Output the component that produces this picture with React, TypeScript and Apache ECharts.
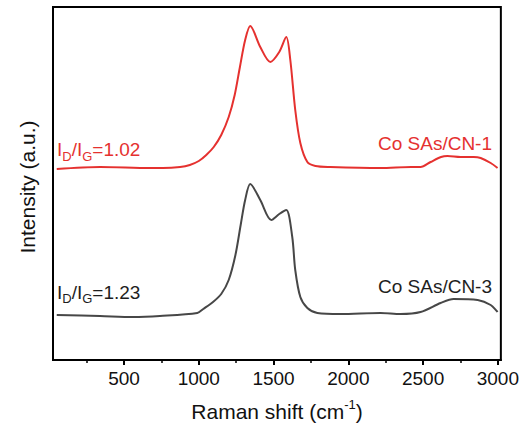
import React, { useEffect, useRef } from "react";
import * as echarts from "echarts";

// Raman shift (cm-1) and intensity (a.u.)
const cn1Shift = [50, 340, 675, 760, 875, 940, 1000, 1050, 1100, 1150, 1200, 1240, 1275, 1310, 1344, 1411, 1478, 1538, 1585, 1612, 1645, 1679, 1726, 1780, 1880, 2215, 2420, 2483, 2550, 2620, 2663, 2750, 2838, 2885, 2952, 2998];
const cn1Intensity = [191, 193, 192, 192, 193, 195, 199, 205, 213, 225, 243, 265, 293, 320, 334, 313, 298, 308, 323, 300, 250, 217, 198, 194, 193, 192, 193, 193, 198, 203, 204, 203, 203, 202, 197, 192];

const cn3Shift = [50, 339, 560, 740, 990, 1030, 1095, 1150, 1200, 1245, 1280, 1310, 1344, 1411, 1485, 1538, 1585, 1625, 1645, 1679, 1726, 1793, 1947, 2215, 2349, 2483, 2617, 2704, 2865, 2952, 2998];
const cn3Intensity = [45, 44, 43, 44, 47, 51, 58, 66, 80, 105, 135, 160, 176, 160, 140, 146, 150, 123, 90, 63, 52, 47, 46, 47, 46, 48, 57, 61, 60, 55, 48];

const xMajorTicks = [500, 1000, 1500, 2000, 2500, 3000];
const xMinorTicks = [250, 750, 1250, 1750, 2250, 2750];

const labelCN1 = "Co SAs/CN-1";
const labelCN3 = "Co SAs/CN-3";
const ratioCN1 = "1.02";
const ratioCN3 = "1.23";

const FONT = "'Liberation Sans', Arial, Helvetica, sans-serif";
const RED = "#e5312f";
const GRAY = "#474747";
const TEXT_DARK = "#1e1e1e";

const ratioRich = (color: string) => ({
  m: { fontSize: 19, lineHeight: 20, height: 20, verticalAlign: "top", fill: color, fontFamily: FONT },
  s: { fontSize: 13, lineHeight: 7, height: 7, verticalAlign: "bottom", fill: color, fontFamily: FONT },
});

export default function App() {
  const ref = useRef<HTMLDivElement>(null);
  useEffect(() => {
    if (!ref.current) return;
    const chart = echarts.init(ref.current, null, { renderer: "svg" });
    const zip = (xs: number[], ys: number[]) => xs.map((x, i) => [x, ys[i]]);
    chart.setOption({
      animation: false,
      backgroundColor: "#ffffff",
      textStyle: { fontFamily: FONT },
      grid: {
        left: 53,
        right: 21,
        top: 7,
        bottom: 74,
        show: true,
        borderColor: "#000",
        borderWidth: 2,
        backgroundColor: "transparent",
      },
      xAxis: [
        {
          type: "value",
          min: 25,
          max: 3020,
          position: "bottom",
          axisLine: { show: true, lineStyle: { color: "#000", width: 2 } },
          axisTick: { show: true, customValues: xMajorTicks, length: 5, inside: false, lineStyle: { color: "#000", width: 2 } },
          axisLabel: {
            show: true,
            customValues: xMajorTicks,
            margin: 9,
            fontSize: 19,
            color: "#111",
            fontFamily: FONT,
            formatter: (v: number) => String(v),
          },
          splitLine: { show: false },
        },
        {
          type: "value",
          min: 25,
          max: 3020,
          position: "bottom",
          axisLine: { show: false },
          axisTick: { show: true, customValues: xMinorTicks, length: 3, inside: false, lineStyle: { color: "#000", width: 1.5 } },
          axisLabel: { show: false },
          splitLine: { show: false },
        },
      ],
      yAxis: {
        type: "value",
        min: 0,
        max: 353,
        axisLine: { show: true, lineStyle: { color: "#000", width: 2 } },
        axisTick: { show: false },
        axisLabel: { show: false },
        splitLine: { show: false },
      },
      series: [
        {
          name: labelCN1,
          type: "line",
          xAxisIndex: 0,
          data: zip(cn1Shift, cn1Intensity),
          showSymbol: false,
          smooth: 0.3,
          lineStyle: { color: RED, width: 2 },
        },
        {
          name: labelCN3,
          type: "line",
          xAxisIndex: 0,
          data: zip(cn3Shift, cn3Intensity),
          showSymbol: false,
          smooth: 0.3,
          lineStyle: { color: GRAY, width: 2 },
        },
      ],
      graphic: [
        {
          type: "text",
          x: 277,
          y: 411,
          style: {
            text: "{m|Raman shift (cm}{p|-1}{m|)}",
            align: "center",
            verticalAlign: "middle",
            rich: {
              m: { fontSize: 21, lineHeight: 22, height: 22, verticalAlign: "top", fill: "#111", fontFamily: FONT },
              p: { fontSize: 13, lineHeight: 8, height: 8, verticalAlign: "top", fill: "#111", fontFamily: FONT },
            },
          },
        },
        {
          type: "text",
          x: 27,
          y: 187,
          rotation: Math.PI / 2,
          style: {
            text: "Intensity (a.u.)",
            align: "center",
            verticalAlign: "middle",
            fontSize: 21,
            fill: "#111",
            fontFamily: FONT,
          },
        },
        {
          type: "text",
          x: 57,
          y: 149.5,
          style: {
            text: `{m|I}{s|D}{m|/I}{s|G}{m|=${ratioCN1}}`,
            align: "left",
            verticalAlign: "middle",
            rich: ratioRich(RED),
          },
        },
        {
          type: "text",
          x: 492,
          y: 143.5,
          style: {
            text: labelCN1,
            align: "right",
            verticalAlign: "middle",
            fontSize: 19,
            fill: RED,
            fontFamily: FONT,
          },
        },
        {
          type: "text",
          x: 57,
          y: 292,
          style: {
            text: `{m|I}{s|D}{m|/I}{s|G}{m|=${ratioCN3}}`,
            align: "left",
            verticalAlign: "middle",
            rich: ratioRich(TEXT_DARK),
          },
        },
        {
          type: "text",
          x: 492,
          y: 286,
          style: {
            text: labelCN3,
            align: "right",
            verticalAlign: "middle",
            fontSize: 19,
            fill: TEXT_DARK,
            fontFamily: FONT,
          },
        },
      ],
    });
    return () => chart.dispose();
  }, []);
  return <div ref={ref} style={{ width: 522, height: 434, position: "absolute", left: 0, top: 0 }} />;
}
